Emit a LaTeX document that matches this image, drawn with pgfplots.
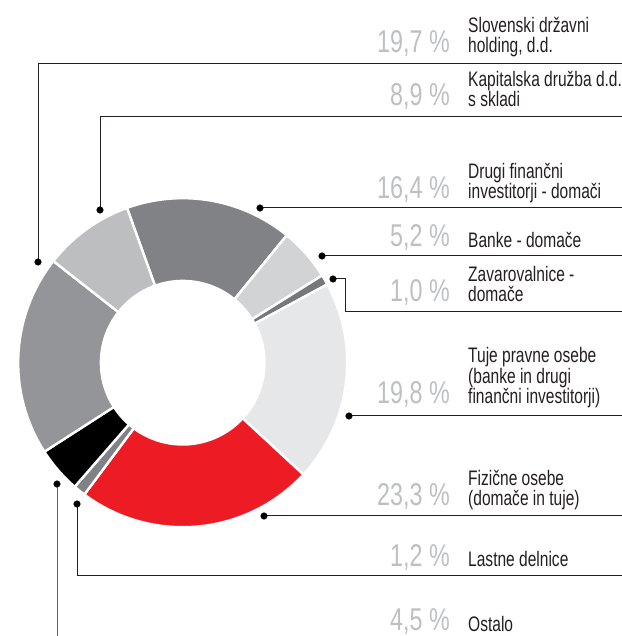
\documentclass[border=0pt]{standalone}
\usepackage{pgfplots}
\pgfplotsset{compat=1.18}
\usepackage{fontspec}
\setmainfont[FakeStretch=0.74]{Liberation Sans}
\newfontfamily\pctfont[FakeStretch=0.74]{Liberation Sans}
\definecolor{cDrugi}{HTML}{808285}
\definecolor{cBanke}{HTML}{D1D3D4}
\definecolor{cZav}{HTML}{77787B}
\definecolor{cTuje}{HTML}{E6E7E8}
\definecolor{cFiz}{HTML}{ED1C24}
\definecolor{cLast}{HTML}{808285}
\definecolor{cOst}{HTML}{000000}
\definecolor{cSDH}{HTML}{939598}
\definecolor{cKAD}{HTML}{BCBEC0}
\definecolor{pctgray}{HTML}{BDBFC1}
\definecolor{lead}{HTML}{231F20}
\def\cx{182.7}
\def\cy{273.3}
\def\Ro{164.5}
\def\Ri{83}
\gdef\curA{109.8}
\newcommand\seg[2]{%
  \pgfmathsetmacro\aS{\curA}%
  \pgfmathsetmacro\aE{\curA-#1*3.6}%
  \edef\tmp{\noexpand\addplot[fill=#2,draw=white,line width=2.4bp,line join=miter,domain=\aE:\aS,samples=80]
    ({\cx+\Ro*cos(x)},{\cy+\Ro*sin(x)}) -- (axis cs:\cx,\cy) -- cycle;}%
  \tmp
  \xdef\curA{\aE}%
}
\tikzset{lab/.style={anchor=base west,align=left,inner sep=0pt,text=lead,font={\fontsize{21bp}{20.5bp}\selectfont}},
         pct/.style={anchor=base east,inner sep=0pt,text=pctgray,font={\pctfont\fontsize{31.5bp}{31.5bp}\selectfont}}}
\begin{document}
\begin{tikzpicture}
\begin{axis}[width=622bp,height=636bp,scale only axis,xmin=0,xmax=622,ymin=0,ymax=636,
  hide axis,clip=false,anchor=south west,at={(0,0)}]
% donut segments (shares in %), clockwise from the top
\seg{16.4}{cDrugi}
\seg{5.2}{cBanke}
\seg{1.0}{cZav}
\seg{19.8}{cTuje}
\seg{23.3}{cFiz}
\seg{1.2}{cLast}
\seg{4.5}{cOst}
\seg{19.7}{cSDH}
\seg{8.9}{cKAD}
\addplot[fill=white,draw=none,domain=0:360,samples=160] ({\cx+\Ri*cos(x)},{\cy+\Ri*sin(x)}) -- cycle;
% leader lines
\addplot[lead,line width=1bp] coordinates {(38,374) (38,572) (622,572)};
\addplot[lead,line width=1bp] coordinates {(100,426) (100,519) (622,519)};
\addplot[lead,line width=1bp] coordinates {(260,428) (622,428)};
\addplot[lead,line width=1bp] coordinates {(322,380) (622,380)};
\addplot[lead,line width=1bp] coordinates {(333,357) (345,357) (345,324) (622,324)};
\addplot[lead,line width=1bp] coordinates {(349,220) (622,220)};
\addplot[lead,line width=1bp] coordinates {(264,120) (622,120)};
\addplot[lead,line width=1bp] coordinates {(77,132) (77,60) (622,60)};
\addplot[black!60,line width=1bp] coordinates {(57,152) (57,0)};
\addplot[only marks,mark=*,mark size=3.3bp,black] coordinates {
 (38,374) (100,426) (260,428) (322,380) (333,357) (349,220) (264,120) (77,132) (57,152)};
% labels
\node[pct] at (axis cs:450,583) {19,7 \%};
\node[lab] at (axis cs:468,583) {Slovenski državni\\holding, d.d.};
\node[pct] at (axis cs:450,530) {8,9 \%};
\node[lab] at (axis cs:468,529) {Kapitalska družba d.d.\\s skladi};
\node[pct] at (axis cs:450,437) {16,4 \%};
\node[lab] at (axis cs:468,437) {Drugi finančni\\investitorji - domači};
\node[pct] at (axis cs:450,389) {5,2 \%};
\node[lab] at (axis cs:468,388) {Banke - domače};
\node[pct] at (axis cs:450,334) {1,0 \%};
\node[lab] at (axis cs:468,334) {Zavarovalnice -\\domače};
\node[pct] at (axis cs:450,232) {19,8 \%};
\node[lab] at (axis cs:468,232) {Tuje pravne osebe\\(banke in drugi\\finančni investitorji)};
\node[pct] at (axis cs:450,130) {23,3 \%};
\node[lab] at (axis cs:468,130) {Fizične osebe\\(domače in tuje)};
\node[pct] at (axis cs:450,69) {1,2 \%};
\node[lab] at (axis cs:468,69) {Lastne delnice};
\node[pct] at (axis cs:450,6) {4,5 \%};
\node[lab] at (axis cs:468,5) {Ostalo};
\end{axis}
\pgfresetboundingbox
\useasboundingbox (0,0) rectangle (622bp,636bp);
\end{tikzpicture}
\end{document}
